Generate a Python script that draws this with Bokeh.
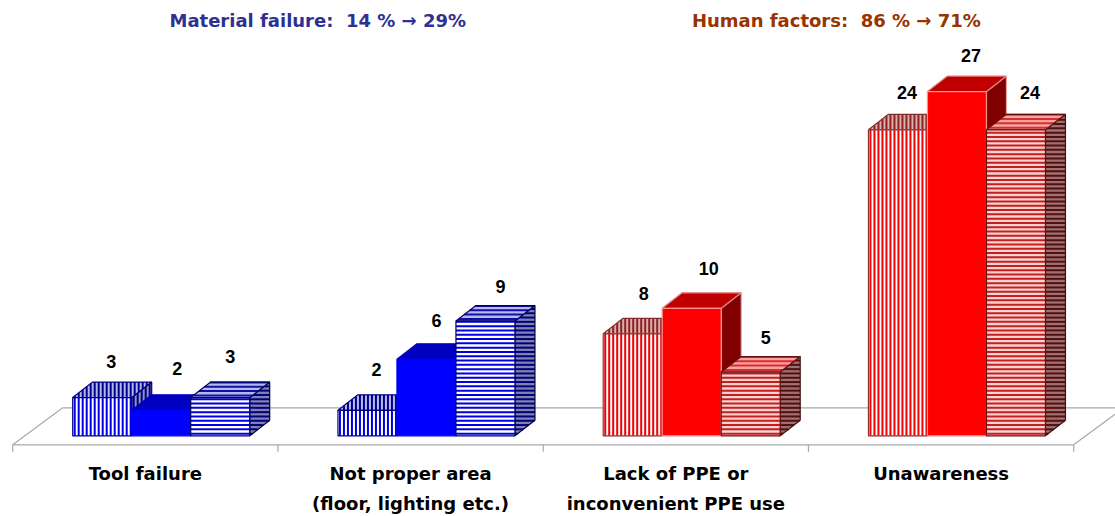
from bokeh.plotting import figure
from bokeh.embed import file_html
from bokeh.resources import INLINE
from bokeh.core.properties import value

categories = ["Tool failure", "Not proper area", "Lack of PPE or", "Unawareness"]
categories2 = ["", "(floor, lighting etc.)", "inconvenient PPE use", ""]
vertical_hatched = [3, 2, 8, 24]
solid = [2, 6, 10, 27]
horizontal_hatched = [3, 9, 5, 24]
bar_colors = ["blue", "blue", "red", "red"]

W, H = 1115, 516
PX, PY = 265.25, 12.75      # pixels per category / per count
OX, OY = 12.2, 435.3        # position of category 0, count 0 inside the frame
BAR, GAP = 59 / PX, 60 / PX
DX, DY = 20 / PX, 15.5 / PY
STEP_X, STEP_Y = 4 / PX, 4.3 / PY

p = figure(width=W, height=H, x_range=(-OX / PX, (W - OX) / PX), y_range=((OY - H) / PY, OY / PY),
           toolbar_location=None, output_backend="svg", min_border=0, outline_line_color=None)
p.axis.visible = False
p.grid.visible = False

# floor
FLOOR_F, FLOOR_B = -9 / PY, 28 / PY
n = len(categories)
slant = 50 / PX
gray = "#a8a8a8"
p.multi_line(xs=[[0, n], [slant, n + slant], [0, slant], [n, n + slant]],
             ys=[[FLOOR_F, FLOOR_F], [FLOOR_B, FLOOR_B], [FLOOR_F, FLOOR_B], [FLOOR_F, FLOOR_B]],
             line_color=gray, line_width=1.2)
p.multi_line(xs=[[i, i] for i in range(n + 1)], ys=[[FLOOR_F, FLOOR_F - 7 / PY]] * (n + 1),
             line_color=gray, line_width=1.2)

STY = {
    ("blue", "v"): dict(front=("#ffffff", "#0000e0", "#000080"), top=("#b8b8e8", "#000090", "#000080"),
                        side=("#9090c8", "#000080", "#000060")),
    ("blue", "s"): dict(front=("#0000ff", None, "#0000ff"), top=("#0000c0", None, "#0000c0"),
                        side=("#000080", None, "#000080")),
    ("blue", "h"): dict(front=("#ffffff", "#0000e0", "#000060"), top=("#b8b8f0", "#1010a0", "#000060"),
                        side=("#8080b8", "#000070", "#000040")),
    ("red", "v"): dict(front=("#ffffff", "#f00000", "#903030"), top=("#d8b0b0", "#902020", "#803030"),
                       side=("#c09090", "#701010", "#602020")),
    ("red", "s"): dict(front=("#ff0000", None, "#ff9090"), top=("#c00000", None, "#e08080"),
                       side=("#800000", None, "#e0a0a0")),
    ("red", "h"): dict(front=("#ffd0d0", "#c02020", "#601010"), top=("#ffa0a0", "#d03030", "#601010"),
                       side=("#a07070", "#501010", "#401010")),
}


def stripes(poly, kind, step):
    """Scan a convex face with vertical or horizontal lines clipped to it."""
    axis = 0 if kind == "v" else 1
    lo = min(q[axis] for q in poly)
    hi = max(q[axis] for q in poly)
    xs, ys = [], []
    t = lo + step / 2
    while t < hi:
        hits = []
        for a, b in zip(poly, poly[1:] + poly[:1]):
            if (a[axis] - t) * (b[axis] - t) <= 0 and a[axis] != b[axis]:
                f = (t - a[axis]) / (b[axis] - a[axis])
                hits.append(a[1 - axis] + f * (b[1 - axis] - a[1 - axis]))
        if hits:
            if kind == "v":
                xs.append([t, t]); ys.append([min(hits), max(hits)])
            else:
                xs.append([min(hits), max(hits)]); ys.append([t, t])
        t += step
    return xs, ys


def face(poly, style, kind):
    fill, stripe, edge = style
    p.patch([q[0] for q in poly], [q[1] for q in poly], fill_color=fill, line_color=None)
    if stripe:
        xs, ys = stripes(poly, kind, STEP_X if kind == "v" else STEP_Y)
        p.multi_line(xs, ys, line_color=stripe, line_width=2)
    p.patch([q[0] for q in poly], [q[1] for q in poly], fill_color=None, line_color=edge, line_width=1.2)


series = [(vertical_hatched, "v"), (solid, "s"), (horizontal_hatched, "h")]
for i in range(n):
    for j, (vals, kind) in enumerate(series):
        x0 = i + GAP + j * BAR
        x1 = x0 + BAR
        v = vals[i]
        sty = STY[(bar_colors[i], kind)]
        side = [(x1, 0), (x1 + DX, DY), (x1 + DX, v + DY), (x1, v)]
        top = [(x0, v), (x1, v), (x1 + DX, v + DY), (x0 + DX, v + DY)]
        frontf = [(x0, 0), (x1, 0), (x1, v), (x0, v)]
        face(side, sty["side"], kind)
        face(top, sty["top"], kind)
        face(frontf, sty["front"], kind)

# value labels: hand placement of each label relative to its bar top
LABEL_DX = [[9, 9, 11, 9], [16, 10, 17, 14], [10, 15, 15, 14]]
LABEL_DY = [[-36, -41, -40, -37], [-42, -39, -40, -36], [-41, -35, -35, -37]]
for j, (vals, kind) in enumerate(series):
    xc = [i + GAP + (j + 0.5) * BAR for i in range(n)]
    p.text(xc, vals, text=[str(v) for v in vals], x_offset=LABEL_DX[j], y_offset=LABEL_DY[j],
           text_font=value("Liberation Sans"), text_font_style="bold", text_font_size="18px",
           text_color="#000000", text_align="center", text_baseline="middle")

# category labels
xc = [i + 0.5 for i in range(n)]
p.text(xc, [-38 / PY] * n, text=categories, text_font=value("DejaVu Sans"), text_font_style="bold",
       text_font_size="18px", text_color="#000000", text_align="center", text_baseline="middle")
p.text(xc, [-68 / PY] * n, text=categories2, text_font=value("DejaVu Sans"), text_font_style="bold",
       text_font_size="18px", text_color="#000000", text_align="center", text_baseline="middle")

# headers
p.text([1.15], [415 / PY], text=["Material failure:\u00a0\u00a014 % \u2192 29%"], text_font=value("DejaVu Sans"),
       text_font_style="bold", text_font_size="18px", text_color="#2e3192", text_align="center", text_baseline="middle")
p.text([3.105], [415 / PY], text=["Human factors:\u00a0\u00a086 % \u2192 71%"], text_font=value("DejaVu Sans"),
       text_font_style="bold", text_font_size="18px", text_color="#993300", text_align="center", text_baseline="middle")

open("out.html", "w").write(file_html(p, INLINE))
